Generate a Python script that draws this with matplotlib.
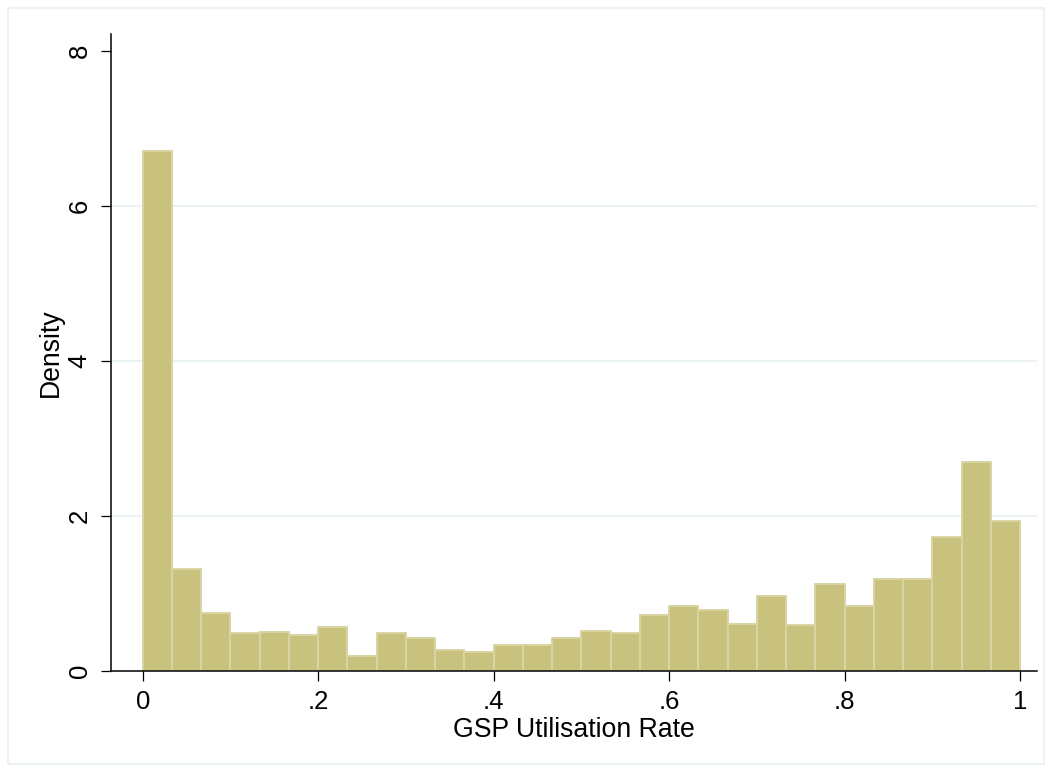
import numpy as np
import matplotlib
matplotlib.use("Agg")
from matplotlib import pyplot
from matplotlib.patches import Rectangle

pyplot.rcParams['font.family'] = ['Liberation Sans', 'DejaVu Sans']

# histogram: 30 equal bins on [0, 1], density scale
bin_lo, bin_hi, n_bins = 0.0, 1.0, 30
density = [6.71, 1.32, 0.75, 0.49, 0.50, 0.47, 0.57, 0.19, 0.49, 0.42,
           0.27, 0.24, 0.34, 0.34, 0.42, 0.52, 0.49, 0.72, 0.84, 0.79,
           0.61, 0.97, 0.59, 1.12, 0.84, 1.19, 1.19, 1.73, 2.69, 1.94]
xticks = [0, 0.2, 0.4, 0.6, 0.8, 1.0]
xticklabels = ["0", ".2", ".4", ".6", ".8", "1"]
yticks = [0, 2, 4, 6, 8]

edges = np.linspace(bin_lo, bin_hi, n_bins + 1)
width = edges[1] - edges[0]

figure = pyplot.figure(figsize=(10.52, 7.71), dpi=100)
axis = figure.add_axes([111.3 / 1052, 1 - 671 / 771,
                        (1036.7 - 111.3) / 1052, (671 - 34.3) / 771])

# outer light frame like stata's graph region
figure.patches.append(Rectangle((7.5 / 1052, 1 - 763.5 / 771), 1036 / 1052, 756 / 771,
                                transform=figure.transFigure, fill=False,
                                edgecolor='#eaf2f3', linewidth=1.5))

axis.bar(edges[:-1], density, width=width, align='edge',
         color='#c9c27e', edgecolor='#d9d4a2', linewidth=1.4, zorder=2)

axis.set_xlim(-0.0358, 1.019)
axis.set_ylim(0, 8.21)
axis.set_xticks(xticks)
axis.set_xticklabels(xticklabels)
axis.set_yticks(yticks)
axis.set_yticklabels([str(v) for v in yticks], rotation=90, va='center')

for side in ('top', 'right'):
    axis.spines[side].set_visible(False)
for side in ('left', 'bottom'):
    axis.spines[side].set_linewidth(1.1)

axis.tick_params(direction='out', length=7.5, width=0.9, labelsize=18.5, pad=6)
axis.tick_params(axis='y', pad=6.5)

axis.yaxis.grid(True, color='#eaf2f3', linewidth=1.5, zorder=0)
axis.set_axisbelow(True)
gl = axis.yaxis.get_gridlines()
gl[0].set_visible(False)
gl[-1].set_visible(False)

axis.set_xlabel("GSP Utilisation Rate", fontsize=19.2, labelpad=2)
axis.set_ylabel("Density", fontsize=19.2, labelpad=3)

pyplot.savefig("out.png", dpi=100)
